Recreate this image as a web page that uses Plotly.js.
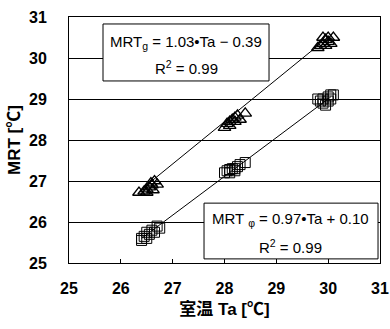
<!DOCTYPE html>
<html><head><meta charset="utf-8">
<script src="https://cdn.plot.ly/plotly-3.0.1.min.js"></script>
<style>html,body{margin:0;padding:0;background:#fff;}</style>
</head><body>
<div id="chart" style="width:390px;height:329px;"></div>
<script>
// MRT_g (globe) series
const taG = [26.35,26.45,26.5,26.55,26.6,26.65,26.58,26.7,26.5,26.62,
             28.0,28.05,28.1,28.15,28.2,28.25,28.3,28.4,28.2,28.1,
             29.8,29.85,29.9,29.95,29.9,30.0,30.05,30.1,29.95,30.0];
const mrtG = [26.72,26.75,26.8,26.85,26.9,27.0,26.95,26.92,26.72,26.78,
              28.3,28.4,28.45,28.5,28.55,28.6,28.5,28.65,28.45,28.35,
              30.25,30.3,30.35,30.45,30.5,30.4,30.35,30.5,30.3,30.5];
// MRT_phi series
const taP = [26.4,26.45,26.5,26.55,26.6,26.65,26.7,26.75,26.4,26.5,
             28.0,28.05,28.1,28.15,28.2,28.25,28.3,28.4,28.2,28.1,
             29.8,29.85,29.9,29.95,30.0,30.05,30.1,29.9,30.0,30.05];
const mrtP = [25.55,25.65,25.75,25.7,25.8,25.75,25.9,25.85,25.6,25.6,
              27.2,27.25,27.2,27.3,27.25,27.35,27.4,27.45,27.3,27.28,
              29.0,28.95,29.0,28.85,29.05,29.1,29.1,28.9,28.95,29.0];
// regression line endpoints
const fitGx = [26.45, 29.85];
const fitGy = [26.85, 30.35];
const fitPx = [26.4, 30.05];
const fitPy = [25.6, 29.05];
const tickVals = [25,26,27,28,29,30,31];
const eqG = ["MRT<sub>g</sub> = 1.03•Ta − 0.39", "R<sup>2</sup> = 0.99"];
const eqP = ["MRT <sub>φ</sub> = 0.97•Ta + 0.10", "R<sup>2</sup> = 0.99"];

const fam = "Liberation Sans, Arial, Noto Sans CJK JP, sans-serif";
const traces = [
  {x: fitGx, y: fitGy, mode: 'lines', line: {color: '#000', width: 1}, hoverinfo: 'skip'},
  {x: fitPx, y: fitPy, mode: 'lines', line: {color: '#000', width: 1}, hoverinfo: 'skip'},
  {x: taG, y: mrtG, mode: 'markers', marker: {symbol: 'triangle-up-open', size: 11, color: '#000', line: {width: 1.3}}},
  {x: taP, y: mrtP, mode: 'markers', marker: {symbol: 'square-open', size: 10, color: '#000', line: {width: 1}}}
];
const boxStyle = {type: 'rect', xref: 'x', yref: 'y', fillcolor: '#fff', line: {color: '#000', width: 1}, layer: 'above'};
const txt = (t, x, y) => ({xref: 'x', yref: 'y', x: x, y: y, xanchor: 'center', yanchor: 'middle',
  text: t, showarrow: false, font: {size: 15, family: fam, color: '#000'}});
const layout = {
  width: 390, height: 329,
  margin: {l: 69, r: 10, t: 17, b: 66},
  showlegend: false,
  paper_bgcolor: '#fff', plot_bgcolor: '#fff',
  font: {family: fam, color: '#000'},
  xaxis: {
    range: [25, 31], tickvals: tickVals, ticks: 'inside', ticklen: 4, tickcolor: '#000',
    showgrid: false, zeroline: false, showline: true, mirror: true, linecolor: '#000', linewidth: 1,
    tickfont: {size: 16, weight: 'bold', family: fam}, ticklabelstandoff: 11,
    title: {text: '室温 Ta [℃]', font: {size: 17, weight: 'bold', family: fam}, standoff: 6}
  },
  yaxis: {
    range: [25, 31], tickvals: tickVals, ticks: 'inside', ticklen: 4, tickcolor: '#000',
    showgrid: true, gridcolor: '#000', gridwidth: 1, zeroline: false,
    showline: true, mirror: true, linecolor: '#000', linewidth: 1,
    tickfont: {size: 16, weight: 'bold', family: fam}, ticklabelstandoff: 18,
    title: {text: 'MRT [℃]', font: {size: 17, weight: 'bold', family: fam}, standoff: 4}
  },
  shapes: [
    Object.assign({x0: 25.656, x1: 28.859, y0: 29.44, y1: 30.83}, boxStyle),
    Object.assign({x0: 27.605, x1: 30.962, y0: 25.10, y1: 26.46}, boxStyle)
  ],
  annotations: [
    txt(eqG[0], 27.26, 30.37), txt(eqG[1], 27.26, 29.76),
    txt(eqP[0], 29.27, 26.05), txt(eqP[1], 29.27, 25.40)
  ]
};
Plotly.newPlot('chart', traces, layout, {displayModeBar: false, staticPlot: true});
</script>
</body></html>
